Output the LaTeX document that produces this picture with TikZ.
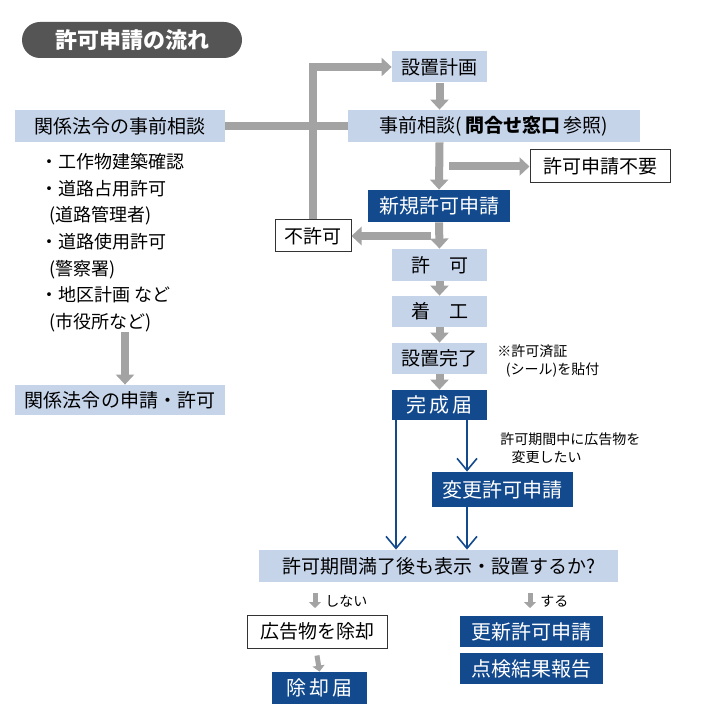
\documentclass[tikz,border=0pt]{standalone}
\usepackage{fontspec}
\setmainfont{Noto Sans CJK JP}
\usetikzlibrary{arrows.meta,positioning}
\definecolor{lightblue}{HTML}{C6D4EA}
\definecolor{darkblue}{HTML}{134A8E}
\definecolor{arrowgray}{HTML}{A3A3A3}
\definecolor{titlegray}{HTML}{555555}
\tikzset{
  box/.style={rectangle,inner sep=0pt,font=\fontsize{9.5}{11}\selectfont},
  lightbox/.style={box,fill=lightblue},
  darkbox/.style={box,fill=darkblue,text=white,font=\fontsize{10}{11}\selectfont},
  whitebox/.style={box,draw=black!80,line width=0.5pt,fill=white},
  notetext/.style={inner sep=0pt,font=\fontsize{7}{9}\selectfont,align=left},
  grayline/.style={draw=arrowgray,line width=4pt},
  grayarrow/.style={grayline,-{Triangle[width=9pt,length=5pt]}},
  smallarrow/.style={draw=arrowgray,line width=2.5pt,-{Triangle[width=6pt,length=3pt]}},
  bluearrow/.style={draw=darkblue,line width=0.8pt,-{Straight Barb[length=6pt,width=10pt,line width=0.8pt]}}
}
\begin{document}
\begin{tikzpicture}[x=0.5pt,y=-0.5pt]
\useasboundingbox[fill=white] (0,0) rectangle (700,716);

% title
\node[rectangle,rounded corners=9pt,fill=titlegray,text=white,minimum width=110pt,minimum height=18pt,
  font=\fontsize{11}{13}\selectfont\bfseries] (title) at (132,40) {許可申請の流れ};

% main flow
\node[lightbox,minimum width=47.5pt,minimum height=15.5pt] (plan) at (439.5,67) {設置計画};
\node[lightbox,minimum width=146pt,minimum height=16pt] (consult) at (494,126) {事前相談(\,{\bfseries 問合せ窓口}\,参照)};
\node[whitebox,minimum width=70pt,minimum height=16.5pt] (noneed) at (600,166.5) {許可申請不要};
\node[darkbox,minimum width=71pt,minimum height=16pt] (newapp) at (439,206) {新規許可申請};
\node[whitebox,minimum width=38pt,minimum height=16pt] (deny) at (313,236) {不許可};
\node[lightbox,minimum width=47.5pt,minimum height=16pt] (permit) at (439.5,265) {許\quad 可};
\node[lightbox,minimum width=47.5pt,minimum height=15.5pt] (start) at (439.5,311.5) {着\quad 工};
\node[lightbox,minimum width=47.5pt,minimum height=15.5pt] (done) at (439.5,358.5) {設置完了};
\node[darkbox,minimum width=47.5pt,minimum height=15pt] (complete) at (439.5,405) {完\,成\,届};
\node[darkbox,minimum width=70.5pt,minimum height=17.5pt] (change) at (502.5,489.5) {変更許可申請};
\node[lightbox,minimum width=179.5pt,minimum height=16pt] (question) at (438.5,566) {許可期間満了後も表示・設置するか?};
\node[whitebox,minimum width=70pt,minimum height=16.5pt] (remove) at (317,631.5) {広告物を除却};
\node[darkbox,minimum width=47.5pt,minimum height=16pt] (removal) at (319.5,688) {除\,却\,届};
\node[darkbox,minimum width=71.5pt,minimum height=15.5pt] (renew) at (531.5,631.5) {更新許可申請};
\node[darkbox,minimum width=71.5pt,minimum height=15.5pt] (inspect) at (531.5,668.5) {点検結果報告};

% notes
\node[notetext,anchor=north west] (seal) at (497,344) {※許可済証\\\hspace{0.6em}(シール)を貼付};
\node[notetext,anchor=north west] (changenote) at (500,432) {許可期間中に広告物を\\\hspace{0.8em}変更したい};
\node[notetext,anchor=west] (nolbl) at (325,601) {しない};
\node[notetext,anchor=west] (yeslbl) at (540,601) {する};

% left column
\node[lightbox,minimum width=105pt,minimum height=16pt] (lawconsult) at (120,126) {関係法令の事前相談};
\node[inner sep=0pt,anchor=north west,align=left,font=\fontsize{9}{13.3}\selectfont] (lawlist) at (40,153)
  {・工作物建築確認\\・道路占用許可\\\hspace{0.5em}(道路管理者)\\・道路使用許可\\\hspace{0.5em}(警察署)\\・地区計画 など\\\hspace{0.5em}(市役所など)};
\node[lightbox,minimum width=105pt,minimum height=15pt] (lawapp) at (120,400) {関係法令の申請・許可};

% gray connectors
\coordinate (loopjn) at (deny.north |- plan.west);
\draw[grayline] (lawconsult.east) -- (consult.west);
\draw[grayarrow] (deny.north) -- (loopjn) -- (plan.west);
\draw[grayarrow] (plan.south) -- (plan.south |- consult.north);
\draw[grayarrow] (plan.south |- consult.south) -- (newapp.north);
\draw[grayarrow] ([xshift=5pt]newapp.north |- noneed.west) -- (noneed.west);
\draw[grayarrow] (newapp.south) -- (permit.north);
\draw[grayarrow] ([xshift=-4pt]newapp.south |- deny.east) -- (deny.east);
\draw[grayarrow] (permit.south) -- (start.north);
\draw[grayarrow] (start.south) -- (done.north);
\draw[grayarrow] (done.south) -- (complete.north);
\draw[grayarrow] ([xshift=2.5pt]lawlist.south -| lawapp.north) -- ([xshift=2.5pt]lawapp.north);

% blue connectors
\draw[bluearrow] ([xshift=-21.75pt]complete.south) -- ([xshift=-21.75pt]complete.south |- question.north);
\draw[bluearrow] ([xshift=13.75pt]complete.south) -- ([xshift=13.75pt]complete.south |- change.north);
\draw[bluearrow] ([xshift=13.75pt]complete.south |- change.south) -- ([xshift=13.75pt]complete.south |- question.north);

% small gray arrows
\draw[smallarrow] ([xshift=-5pt,yshift=4pt]nolbl.west) -- ([xshift=-5pt,yshift=-3.5pt]nolbl.west);
\draw[smallarrow] ([xshift=-5pt,yshift=4pt]yeslbl.west) -- ([xshift=-5pt,yshift=-3.5pt]yeslbl.west);
\draw[smallarrow] ([yshift=-3.5pt]remove.south) -- (removal.north);
\end{tikzpicture}
\end{document}
